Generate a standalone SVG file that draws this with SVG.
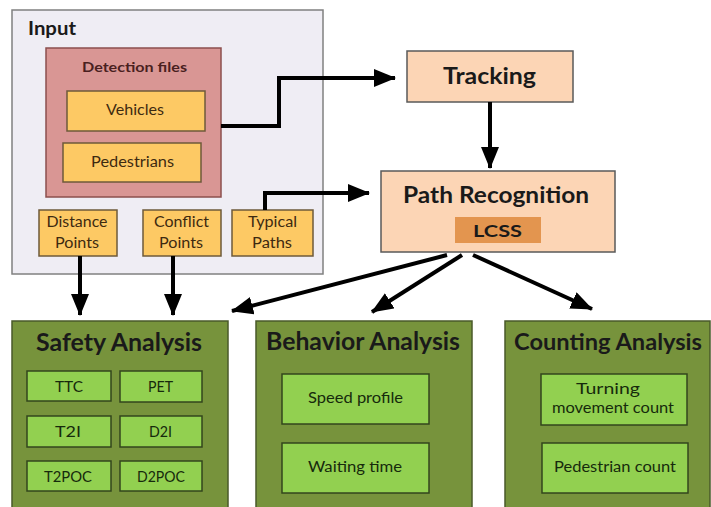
<svg xmlns="http://www.w3.org/2000/svg" width="711" height="507" viewBox="0 0 711 507">
  <style>
    text { font-family: Lato, "Open Sans", "Liberation Sans", sans-serif; text-anchor: middle; }
    .box-input { fill: #efedf4; stroke: #808080; stroke-width: 1.5; }
    .box-det { fill: #d99694; stroke: #8c4f4d; stroke-width: 1.5; }
    .box-yel { fill: #fdc964; stroke: #6e5a3a; stroke-width: 1.5; }
    .box-peach { fill: #fcd5b5; stroke: #5a5a5a; stroke-width: 1.5; }
    .box-lcss { fill: #e3954f; }
    .box-grp { fill: #77933c; stroke: #4a5a2a; stroke-width: 1.5; }
    .box-leaf { fill: #92d050; stroke: #33461c; stroke-width: 1.5; }
    .t-head { font-weight: 700; fill: #1a1a1a; }
    .t-det { font-weight: 700; fill: #4a1f1f; font-size: 14px; }
    .t-yel { font-weight: 400; fill: #3d2a10; font-size: 14.5px; }
    .t-leaf { font-weight: 400; fill: #162a0c; font-size: 14.5px; }
    .conn { fill: none; stroke: #000; stroke-width: 4; }
  </style>
  <defs>
    <marker id="arrow" markerUnits="userSpaceOnUse" markerWidth="22" markerHeight="20" refX="21" refY="9" orient="auto">
      <path d="M0,0 L22,9 L0,18 z" fill="#000"/>
    </marker>
  </defs>

  <!-- Input panel -->
  <g id="input">
    <rect class="box-input" x="12" y="10" width="311" height="264"/>
    <text class="t-head" x="52" y="35" font-size="19" textLength="48" lengthAdjust="spacingAndGlyphs">Input</text>
  </g>
  <g id="detection-files">
    <rect class="box-det" x="46" y="48" width="175" height="149"/>
    <text class="t-det" x="134.5" y="72" textLength="105" lengthAdjust="spacingAndGlyphs">Detection files</text>
  </g>
  <g id="vehicles">
    <rect class="box-yel" x="67" y="91" width="138" height="40"/>
    <text class="t-yel" x="135" y="115" textLength="58" lengthAdjust="spacingAndGlyphs">Vehicles</text>
  </g>
  <g id="pedestrians">
    <rect class="box-yel" x="63" y="143" width="138" height="39"/>
    <text class="t-yel" x="132.5" y="167" textLength="83" lengthAdjust="spacingAndGlyphs">Pedestrians</text>
  </g>
  <g id="distance-points">
    <rect class="box-yel" x="39" y="210" width="78" height="46"/>
    <text class="t-yel" x="77" y="227" textLength="61" lengthAdjust="spacingAndGlyphs">Distance</text>
    <text class="t-yel" x="77" y="248" textLength="44" lengthAdjust="spacingAndGlyphs">Points</text>
  </g>
  <g id="conflict-points">
    <rect class="box-yel" x="143" y="210" width="78" height="46"/>
    <text class="t-yel" x="181.5" y="227" textLength="55" lengthAdjust="spacingAndGlyphs">Conflict</text>
    <text class="t-yel" x="181" y="248" textLength="44" lengthAdjust="spacingAndGlyphs">Points</text>
  </g>
  <g id="typical-paths">
    <rect class="box-yel" x="232" y="210" width="81" height="46"/>
    <text class="t-yel" x="272.5" y="227" textLength="49" lengthAdjust="spacingAndGlyphs">Typical</text>
    <text class="t-yel" x="272" y="248" textLength="40" lengthAdjust="spacingAndGlyphs">Paths</text>
  </g>

  <!-- Processing stages -->
  <g id="tracking">
    <rect class="box-peach" x="407" y="51" width="166" height="51"/>
    <text class="t-head" x="489.5" y="84" font-size="22" textLength="93" lengthAdjust="spacingAndGlyphs">Tracking</text>
  </g>
  <g id="path-recognition">
    <rect class="box-peach" x="381" y="171" width="234" height="81"/>
    <text class="t-head" x="496" y="203" font-size="22" textLength="186" lengthAdjust="spacingAndGlyphs">Path Recognition</text>
    <rect class="box-lcss" x="455" y="217" width="86" height="26"/>
    <text class="t-head" x="497.5" y="237" font-size="17" textLength="49" lengthAdjust="spacingAndGlyphs">LCSS</text>
  </g>

  <!-- Safety analysis -->
  <g id="safety-analysis">
    <rect class="box-grp" x="12" y="321" width="216" height="190"/>
    <text class="t-head" x="119" y="351" font-size="25" textLength="166" lengthAdjust="spacingAndGlyphs">Safety Analysis</text>
  </g>
  <g id="ttc">
    <rect class="box-leaf" x="27" y="371" width="84" height="30"/>
    <text class="t-leaf" x="69" y="392" textLength="28" lengthAdjust="spacingAndGlyphs">TTC</text>
  </g>
  <g id="pet">
    <rect class="box-leaf" x="120" y="371" width="82" height="31"/>
    <text class="t-leaf" x="160.5" y="392" textLength="25" lengthAdjust="spacingAndGlyphs">PET</text>
  </g>
  <g id="t2i">
    <rect class="box-leaf" x="27" y="416" width="84" height="31"/>
    <text class="t-leaf" x="68" y="437" textLength="26" lengthAdjust="spacingAndGlyphs">T2I</text>
  </g>
  <g id="d2i">
    <rect class="box-leaf" x="120" y="416" width="82" height="31"/>
    <text class="t-leaf" x="160.5" y="437" textLength="23" lengthAdjust="spacingAndGlyphs">D2I</text>
  </g>
  <g id="t2poc">
    <rect class="box-leaf" x="27" y="461" width="84" height="30"/>
    <text class="t-leaf" x="68" y="482" textLength="48" lengthAdjust="spacingAndGlyphs">T2POC</text>
  </g>
  <g id="d2poc">
    <rect class="box-leaf" x="120" y="461" width="82" height="30"/>
    <text class="t-leaf" x="161" y="482" textLength="48" lengthAdjust="spacingAndGlyphs">D2POC</text>
  </g>

  <!-- Behavior analysis -->
  <g id="behavior-analysis">
    <rect class="box-grp" x="256" y="321" width="216" height="190"/>
    <text class="t-head" x="363" y="350" font-size="25" textLength="194" lengthAdjust="spacingAndGlyphs">Behavior Analysis</text>
  </g>
  <g id="speed-profile">
    <rect class="box-leaf" x="282" y="374" width="147" height="50"/>
    <text class="t-leaf" x="355.5" y="403" textLength="95" lengthAdjust="spacingAndGlyphs">Speed profile</text>
  </g>
  <g id="waiting-time">
    <rect class="box-leaf" x="282" y="443" width="147" height="50"/>
    <text class="t-leaf" x="355" y="472" textLength="94" lengthAdjust="spacingAndGlyphs">Waiting time</text>
  </g>

  <!-- Counting analysis -->
  <g id="counting-analysis">
    <rect class="box-grp" x="505" y="321" width="205" height="190"/>
    <text class="t-head" x="608" y="350" font-size="23" textLength="188" lengthAdjust="spacingAndGlyphs">Counting Analysis</text>
  </g>
  <g id="turning-movement-count">
    <rect class="box-leaf" x="541" y="374" width="146" height="51"/>
    <text class="t-leaf" x="608" y="394" textLength="64" lengthAdjust="spacingAndGlyphs">Turning</text>
    <text class="t-leaf" x="613" y="413" textLength="122" lengthAdjust="spacingAndGlyphs">movement count</text>
  </g>
  <g id="pedestrian-count">
    <rect class="box-leaf" x="542" y="443" width="146" height="50"/>
    <text class="t-leaf" x="615" y="472" textLength="122" lengthAdjust="spacingAndGlyphs">Pedestrian count</text>
  </g>

  <!-- Connectors -->
  <g id="connectors">
    <polyline class="conn" points="221,126 279,126 279,78 395,78" marker-end="url(#arrow)"/>
    <polyline class="conn" points="265,210 265,193 369,193" marker-end="url(#arrow)"/>
    <line class="conn" x1="490" y1="102" x2="490" y2="168" marker-end="url(#arrow)"/>
    <line class="conn" x1="80" y1="256" x2="80" y2="315" marker-end="url(#arrow)"/>
    <line class="conn" x1="173" y1="256" x2="173" y2="315" marker-end="url(#arrow)"/>
    <line class="conn" x1="447" y1="255" x2="232" y2="311" marker-end="url(#arrow)"/>
    <line class="conn" x1="462" y1="255" x2="372" y2="312" marker-end="url(#arrow)"/>
    <line class="conn" x1="473" y1="255" x2="592" y2="309" marker-end="url(#arrow)"/>
  </g>
</svg>
